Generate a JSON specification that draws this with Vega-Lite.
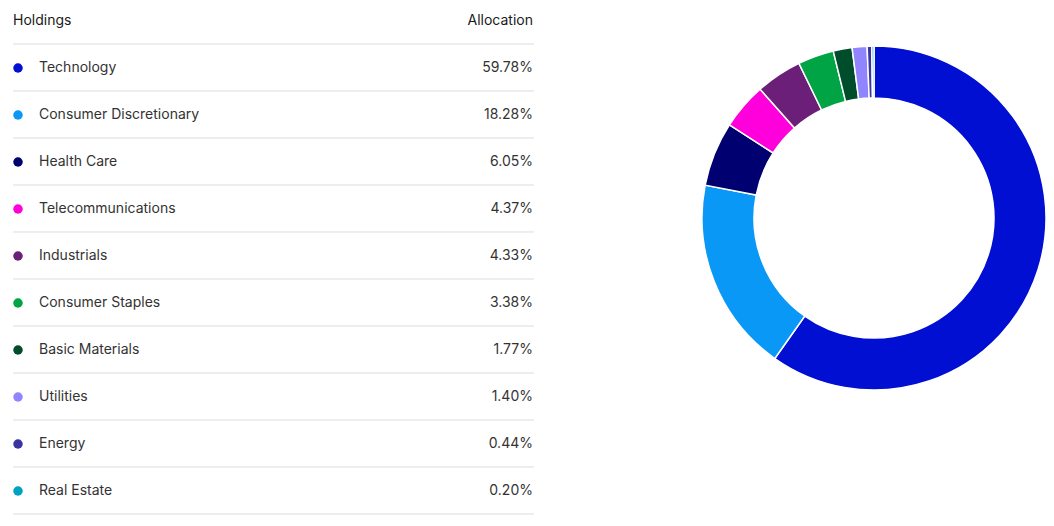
{
  "$schema": "https://vega.github.io/schema/vega-lite/v6.json",
  "padding": 0,
  "spacing": 164,
  "background": "white",
  "config": {"view": {"stroke": null}, "text": {"font": "Inter", "fontSize": 14, "color": "#333333", "fontWeight": "normal"}},
  "datasets": {
    "sectors": [
      {"rank": 1, "name": "Technology", "value": 59.78, "label": "59.78%"},
      {"rank": 2, "name": "Consumer Discretionary", "value": 18.28, "label": "18.28%"},
      {"rank": 3, "name": "Health Care", "value": 6.05, "label": "6.05%"},
      {"rank": 4, "name": "Telecommunications", "value": 4.37, "label": "4.37%"},
      {"rank": 5, "name": "Industrials", "value": 4.33, "label": "4.33%"},
      {"rank": 6, "name": "Consumer Staples", "value": 3.38, "label": "3.38%"},
      {"rank": 7, "name": "Basic Materials", "value": 1.77, "label": "1.77%"},
      {"rank": 8, "name": "Utilities", "value": 1.40, "label": "1.40%"},
      {"rank": 9, "name": "Energy", "value": 0.44, "label": "0.44%"},
      {"rank": 10, "name": "Real Estate", "value": 0.20, "label": "0.20%"}
    ],
    "header": [
      {"rank": 0, "holdings": "Holdings", "allocation": "Allocation"}
    ]
  },
  "hconcat": [
    {
      "width": 534,
      "height": 526,
      "data": {"name": "sectors"},
      "layer": [
        {
          "mark": {"type": "rule", "color": "#dcdcdc", "strokeWidth": 1, "yOffset": -24},
          "encoding": {
            "x": {"datum": 13, "type": "quantitative", "scale": {"domain": [0, 534], "range": [0, 534], "nice": false, "zero": false}, "axis": null},
            "x2": {"datum": 534},
            "y": {"field": "rank", "type": "quantitative", "scale": {"domain": [-0.4468, 10.745], "range": [0, 526], "nice": false, "zero": false}, "axis": null}
          }
        },
        {
          "data": {"name": "header"},
          "mark": {"type": "rule", "color": "#dcdcdc", "strokeWidth": 1, "yOffset": -24},
          "encoding": {
            "x": {"datum": 13, "type": "quantitative"},
            "x2": {"datum": 534},
            "y": {"datum": 11, "type": "quantitative"}
          }
        },
        {
          "data": {"name": "header"},
          "mark": {"type": "text", "align": "left", "baseline": "middle", "color": "#1a1a1a"},
          "encoding": {
            "x": {"datum": 13, "type": "quantitative"},
            "y": {"field": "rank", "type": "quantitative"},
            "text": {"field": "holdings"}
          }
        },
        {
          "data": {"name": "header"},
          "mark": {"type": "text", "align": "right", "baseline": "middle", "color": "#1a1a1a"},
          "encoding": {
            "x": {"datum": 533, "type": "quantitative"},
            "y": {"field": "rank", "type": "quantitative"},
            "text": {"field": "allocation"}
          }
        },
        {
          "mark": {"type": "point", "filled": true, "size": 90, "opacity": 1},
          "encoding": {
            "x": {"datum": 18, "type": "quantitative"},
            "y": {"field": "rank", "type": "quantitative"},
            "color": {
              "field": "name", "type": "nominal", "legend": null,
              "scale": {
                "domain": ["Technology", "Consumer Discretionary", "Health Care", "Telecommunications", "Industrials", "Consumer Staples", "Basic Materials", "Utilities", "Energy", "Real Estate"],
                "range": ["#000fd2", "#0a98f6", "#000070", "#ff00dc", "#6b1f78", "#00a445", "#004d2b", "#9184ff", "#3a34a0", "#00a2c4"]
              }
            }
          }
        },
        {
          "mark": {"type": "text", "align": "left", "baseline": "middle"},
          "encoding": {
            "x": {"datum": 39, "type": "quantitative"},
            "y": {"field": "rank", "type": "quantitative"},
            "text": {"field": "name"}
          }
        },
        {
          "mark": {"type": "text", "align": "right", "baseline": "middle"},
          "encoding": {
            "x": {"datum": 533, "type": "quantitative"},
            "y": {"field": "rank", "type": "quantitative"},
            "text": {"field": "label"}
          }
        }
      ]
    },
    {
      "width": 344,
      "height": 436,
      "data": {"name": "sectors"},
      "mark": {"type": "arc", "innerRadius": 120, "outerRadius": 172, "stroke": "white", "strokeWidth": 1.5},
      "encoding": {
        "theta": {"field": "value", "type": "quantitative", "stack": true},
        "order": {"field": "rank", "type": "quantitative"},
        "color": {
          "field": "name", "type": "nominal", "legend": null,
          "scale": {
            "domain": ["Technology", "Consumer Discretionary", "Health Care", "Telecommunications", "Industrials", "Consumer Staples", "Basic Materials", "Utilities", "Energy", "Real Estate"],
            "range": ["#000fd2", "#0a98f6", "#000070", "#ff00dc", "#6b1f78", "#00a445", "#004d2b", "#9184ff", "#3a34a0", "#00a2c4"]
          }
        }
      }
    }
  ]
}
